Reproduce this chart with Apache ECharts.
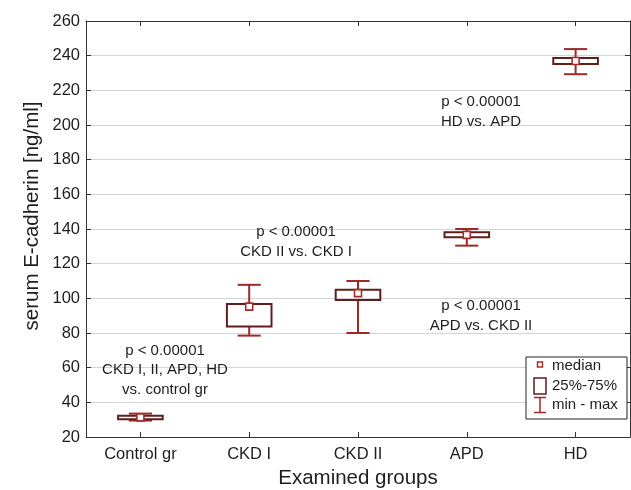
<!DOCTYPE html>
<html>
<head>
<meta charset="utf-8">
<script src="https://cdn.jsdelivr.net/npm/echarts@6/dist/echarts.min.js"></script>
<style>
  html, body { margin: 0; padding: 0; background: #fff; }
  #main { width: 631px; height: 490px; }
</style>
</head>
<body>
<div id="main"></div>
<script>
(function (echarts) {
  'use strict';

  var categories = ['Control gr', 'CKD I', 'CKD II', 'APD', 'HD'];
  var minVals = [29.5, 78.5, 80, 130.4, 229.3];
  var q1Vals = [30.3, 83.8, 99, 135.3, 235.2];
  var medianVals = [31.3, 95.2, 103, 136.6, 236.9];
  var q3Vals = [32.3, 96.8, 104.9, 138.1, 238.6];
  var maxVals = [33.5, 107.8, 110, 140, 243.8];
  var yTicks = [20, 260, 20]; // min, max, interval

  var FONT = '"Liberation Sans", Arial, Helvetica, sans-serif';
  var TEXT = '#1e1e1e';
  var WHISKER = '#9c2a27';
  var BOX = '#5e1e1e';
  var MEDIAN = '#a42e2a';

  var boxData = categories.map(function (c, i) {
    return [i, minVals[i], q1Vals[i], medianVals[i], q3Vals[i], maxVals[i]];
  });

  function renderBox(params, api) {
    var i = api.value(0);
    var pMin = api.coord([i, api.value(1)]);
    var pQ1 = api.coord([i, api.value(2)]);
    var pMed = api.coord([i, api.value(3)]);
    var pQ3 = api.coord([i, api.value(4)]);
    var pMax = api.coord([i, api.value(5)]);
    var cx = pMed[0];
    var bw = api.size([1, 0])[0] * 0.41;
    var cw = bw * 0.52;
    var wStyle = {stroke: WHISKER, lineWidth: 2};
    var m = 3.5;
    return {
      type: 'group',
      children: [
        {type: 'line', shape: {x1: cx, y1: pMax[1], x2: cx, y2: pQ3[1]}, style: wStyle},
        {type: 'line', shape: {x1: cx, y1: pQ1[1], x2: cx, y2: pMin[1]}, style: wStyle},
        {type: 'line', shape: {x1: cx - cw / 2, y1: pMax[1], x2: cx + cw / 2, y2: pMax[1]}, style: wStyle},
        {type: 'line', shape: {x1: cx - cw / 2, y1: pMin[1], x2: cx + cw / 2, y2: pMin[1]}, style: wStyle},
        {type: 'rect', shape: {x: cx - bw / 2, y: pQ3[1], width: bw, height: pQ1[1] - pQ3[1]},
          style: {fill: 'rgba(255,255,255,0)', stroke: BOX, lineWidth: 2}},
        {type: 'rect', shape: {x: cx - m, y: pMed[1] - m, width: 2 * m, height: 2 * m},
          style: {fill: '#fff', stroke: MEDIAN, lineWidth: 1.6}}
      ]
    };
  }

  function note(x, y, text) {
    return {
      type: 'text', x: x, y: y, z: 10,
      style: {text: text, font: '15px ' + FONT, fill: TEXT, align: 'center',
        verticalAlign: 'middle', lineHeight: 19.5}
    };
  }

  var frame = {show: true, lineStyle: {color: '#333', width: 1}};
  var tick = {show: true, inside: true, length: 5, lineStyle: {color: '#333'}};
  var catTick = {show: true, inside: true, length: 5, alignWithLabel: true, lineStyle: {color: '#333'}};

  echarts.init(document.getElementById('main')).setOption({
    animation: false,
    backgroundColor: '#fff',
    grid: {left: 86, right: 1, top: 21, bottom: 53, containLabel: false, outerBoundsMode: 'none'},
    xAxis: [{
      type: 'category',
      data: categories,
      boundaryGap: true,
      axisLine: frame,
      axisTick: catTick,
      axisLabel: {color: TEXT, fontSize: 16.5, fontFamily: FONT, margin: 9},
      name: 'Examined groups',
      nameLocation: 'middle',
      nameGap: 31,
      nameTextStyle: {color: TEXT, fontSize: 20.5, fontFamily: FONT}
    }, {
      type: 'category',
      data: categories,
      position: 'top',
      axisLine: frame,
      axisTick: catTick,
      axisLabel: {show: false}
    }],
    yAxis: [{
      type: 'value',
      min: yTicks[0], max: yTicks[1], interval: yTicks[2],
      axisLine: frame,
      axisTick: tick,
      axisLabel: {color: TEXT, fontSize: 16.5, fontFamily: FONT, margin: 6},
      splitLine: {show: true, lineStyle: {color: '#d4d4d4', width: 1}}
    }, {
      type: 'value',
      position: 'right',
      min: yTicks[0], max: yTicks[1], interval: yTicks[2],
      axisLine: frame,
      axisTick: tick,
      axisLabel: {show: false},
      splitLine: {show: false}
    }],
    series: [{
      type: 'custom',
      renderItem: renderBox,
      encode: {x: 0, y: [1, 2, 3, 4, 5]},
      data: boxData,
      z: 5
    }],
    graphic: [
      {type: 'text', x: 32, y: 216, rotation: Math.PI / 2,
        style: {text: 'serum E-cadherin [ng/ml]', font: '20.5px ' + FONT, fill: TEXT,
          align: 'center', verticalAlign: 'middle'}},
      note(165, 370, 'p < 0.00001\nCKD I, II, APD, HD\nvs. control gr'),
      note(296, 242, 'p < 0.00001\nCKD II vs. CKD I'),
      note(481, 112, 'p < 0.00001\nHD vs. APD'),
      note(481, 316, 'p < 0.00001\nAPD vs. CKD II'),
      {type: 'rect', z: 20, shape: {x: 526, y: 357, width: 101, height: 62},
        style: {fill: '#fff', stroke: '#222', lineWidth: 1}},
      {type: 'rect', z: 21, shape: {x: 537.5, y: 362, width: 5, height: 5},
        style: {fill: '#fff', stroke: MEDIAN, lineWidth: 1.5}},
      {type: 'rect', z: 21, shape: {x: 534, y: 378, width: 12, height: 16},
        style: {fill: '#fff', stroke: BOX, lineWidth: 1.5}},
      {type: 'line', z: 21, shape: {x1: 534, y1: 397.5, x2: 546, y2: 397.5}, style: {stroke: WHISKER, lineWidth: 1.5}},
      {type: 'line', z: 21, shape: {x1: 540, y1: 397.5, x2: 540, y2: 412.5}, style: {stroke: WHISKER, lineWidth: 1.5}},
      {type: 'line', z: 21, shape: {x1: 534, y1: 412.5, x2: 546, y2: 412.5}, style: {stroke: WHISKER, lineWidth: 1.5}},
      {type: 'text', z: 21, x: 552, y: 366, style: {text: 'median', font: '15px ' + FONT, fill: TEXT, verticalAlign: 'middle'}},
      {type: 'text', z: 21, x: 552, y: 386, style: {text: '25%-75%', font: '15px ' + FONT, fill: TEXT, verticalAlign: 'middle'}},
      {type: 'text', z: 21, x: 552, y: 405, style: {text: 'min - max', font: '15px ' + FONT, fill: TEXT, verticalAlign: 'middle'}}
    ]
  });
})(window.echarts);
</script>
</body>
</html>
